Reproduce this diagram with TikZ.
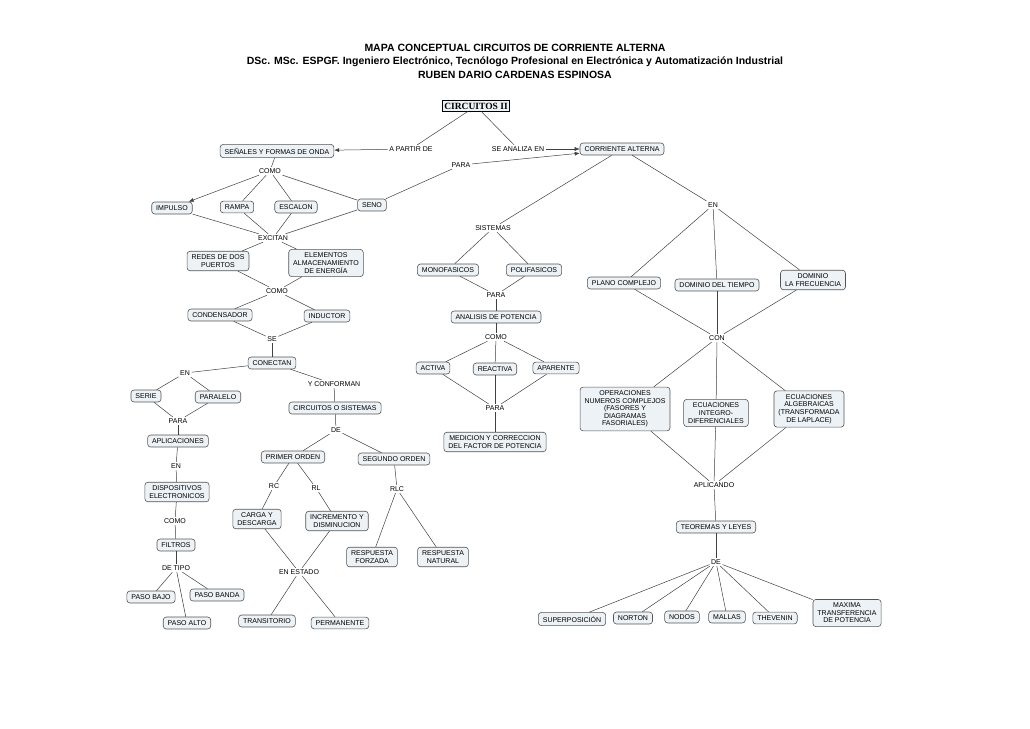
\documentclass[tikz,border=0pt]{standalone}
\usepackage{fontspec}
\setmainfont{Liberation Sans}
\newfontfamily\rootfont{Liberation Serif}
\usepackage{tikz}
\usetikzlibrary{arrows.meta}
\definecolor{boxfill}{HTML}{EDF2F6}
\definecolor{boxline}{HTML}{555555}
\begin{document}
\begin{tikzpicture}[x=1pt,y=-1pt,
  concept/.style={draw=boxline, fill=boxfill, rounded corners=3pt, align=center,
    font=\fontsize{7}{7.6}\selectfont, inner xsep=4.5pt, inner ysep=3.5pt, line width=0.6pt},
  link/.style={align=center, font=\fontsize{7}{7.6}\selectfont, inner sep=1.5pt, fill=white},
  conn/.style={draw=black!75, line width=0.5pt},
  toarrow/.style={conn, -{Latex[length=5pt,width=4pt]}}]
\useasboundingbox (0,0) rectangle (1030,728);

\node[font=\bfseries\fontsize{10.5}{13.5}\selectfont, align=center] (title) at (515,61)
  {MAPA CONCEPTUAL CIRCUITOS DE CORRIENTE ALTERNA\\
   DSc. MSc. ESPGF. Ingeniero Electrónico, Tecnólogo Profesional en Electrónica y Automatización Industrial\\
   RUBEN DARIO CARDENAS ESPINOSA};

\node[draw, fill=boxfill, line width=0.8pt, inner sep=2pt, font=\rootfont\bfseries\fontsize{9.5}{10}\selectfont] (root) at (476,106) {CIRCUITOS II};

% left branch
\node[link] (apartir) at (411,149) {A PARTIR DE};
\node[link] (analiza) at (518,149) {SE ANALIZA EN};
\node[concept] (senales) at (277,151) {SEÑALES Y FORMAS DE ONDA};
\node[concept] (ca) at (622,149) {CORRIENTE ALTERNA};
\node[link] (para1) at (461,165) {PARA};
\node[link] (como1) at (270,171) {COMO};
\node[concept] (impulso) at (172,208) {IMPULSO};
\node[concept] (rampa) at (237,207) {RAMPA};
\node[concept] (escalon) at (296,207) {ESCALON};
\node[concept] (seno) at (372,205) {SENO};
\node[link] (excitan) at (273,238) {EXCITAN};
\node[concept] (redes) at (218,261) {REDES DE DOS\\PUERTOS};
\node[concept] (elementos) at (326,263) {ELEMENTOS\\ALMACENAMIENTO\\DE ENERGÍA};
\node[link] (como2) at (277,291) {COMO};
\node[concept] (cond) at (220,315) {CONDENSADOR};
\node[concept] (induc) at (327,316) {INDUCTOR};
\node[link] (se) at (272,339) {SE};
\node[concept] (conectan) at (272,363) {CONECTAN};
\node[link] (en1) at (185,373) {EN};
\node[link] (yconf) at (334,384) {Y CONFORMAN};
\node[concept] (serie) at (146,396) {SERIE};
\node[concept] (paralelo) at (218,397) {PARALELO};
\node[concept] (cos) at (335,408) {CIRCUITOS O SISTEMAS};
\node[link] (para2) at (178,421) {PARA};
\node[link] (de1) at (336,430) {DE};
\node[concept] (aplic) at (178,441) {APLICACIONES};
\node[concept] (primer) at (293,457) {PRIMER ORDEN};
\node[concept] (segundo) at (394,459) {SEGUNDO ORDEN};
\node[link] (en2) at (176,466) {EN};
\node[link] (rc) at (274,486) {RC};
\node[link] (rl) at (316,488) {RL};
\node[link] (rlc) at (397,489) {RLC};
\node[concept] (dispos) at (177,492) {DISPOSITIVOS\\ELECTRONICOS};
\node[concept] (carga) at (257,519) {CARGA Y\\DESCARGA};
\node[concept] (incr) at (337,521) {INCREMENTO Y\\DISMINUCION};
\node[link] (como3) at (175,521) {COMO};
\node[concept] (filtros) at (176,545) {FILTROS};
\node[concept] (forzada) at (372,557) {RESPUESTA\\FORZADA};
\node[concept] (natural) at (443,557) {RESPUESTA\\NATURAL};
\node[link] (detipo) at (176,568) {DE TIPO};
\node[link] (estado) at (299,572) {EN ESTADO};
\node[concept] (bajo) at (151,597) {PASO BAJO};
\node[concept] (banda) at (217,595) {PASO BANDA};
\node[concept] (alto) at (187,623) {PASO ALTO};
\node[concept] (trans) at (267,621) {TRANSITORIO};
\node[concept] (perm) at (340,623) {PERMANENTE};

% middle branch
\node[link] (sistemas) at (493,228) {SISTEMAS};
\node[concept] (mono) at (448,270) {MONOFASICOS};
\node[concept] (poli) at (534,270) {POLIFASICOS};
\node[link] (para3) at (496,295) {PARA};
\node[concept] (analisis) at (496,317) {ANALISIS DE POTENCIA};
\node[link] (como4) at (496,337) {COMO};
\node[concept] (activa) at (433,368) {ACTIVA};
\node[concept] (reactiva) at (495,369) {REACTIVA};
\node[concept] (aparente) at (556,368) {APARENTE};
\node[link] (para4) at (495,408) {PARA};
\node[concept] (medicion) at (495,442) {MEDICION Y CORRECCION\\DEL FACTOR DE POTENCIA};

% right branch
\node[link] (en3) at (713,205) {EN};
\node[concept] (plano) at (624,283) {PLANO COMPLEJO};
\node[concept] (tiempo) at (717,285) {DOMINIO DEL TIEMPO};
\node[concept] (frec) at (813,280) {DOMINIO\\LA FRECUENCIA};
\node[link] (con) at (717,338) {CON};
\node[concept] (oper) at (625,409) {OPERACIONES\\NUMEROS COMPLEJOS\\(FASORES Y\\DIAGRAMAS\\FASORIALES)};
\node[concept] (ecint) at (716,413) {ECUACIONES\\INTEGRO-\\DIFERENCIALES};
\node[concept] (ecalg) at (809,409) {ECUACIONES\\ALGEBRAICAS\\(TRANSFORMADA\\DE LAPLACE)};
\node[link] (aplicando) at (714,485) {APLICANDO};
\node[concept] (teoremas) at (716,527) {TEOREMAS Y LEYES};
\node[link] (de2) at (716,562) {DE};
\node[concept] (superp) at (572,619) {SUPERPOSICIÓN};
\node[concept] (norton) at (633,618) {NORTON};
\node[concept] (nodos) at (682,617) {NODOS};
\node[concept] (mallas) at (727,617) {MALLAS};
\node[concept] (thevenin) at (775,618) {THEVENIN};
\node[concept] (maxima) at (847,613) {MAXIMA\\TRANSFERENCIA\\DE POTENCIA};

\draw[conn] (root) -- (apartir);
\draw[toarrow] (apartir) -- (senales);
\draw[conn] (root) -- (analiza);
\draw[toarrow] (analiza) -- (ca);
\draw[conn] (seno) -- (para1);
\draw[toarrow] (para1) -- (ca);
\draw[conn] (senales) -- (como1);
\draw[toarrow] (como1) -- (impulso);
\foreach \n in {rampa,escalon,seno} \draw[conn] (como1) -- (\n);
\foreach \n in {impulso,rampa,escalon,seno} \draw[conn] (\n) -- (excitan);
\foreach \n in {redes,elementos} {\draw[conn] (excitan) -- (\n); \draw[conn] (\n) -- (como2);}
\foreach \n in {cond,induc} {\draw[conn] (como2) -- (\n); \draw[conn] (\n) -- (se);}
\draw[conn] (se) -- (conectan);
\draw[conn] (conectan) -- (en1);
\draw[conn] (conectan) -- (yconf);
\foreach \n in {serie,paralelo} {\draw[conn] (en1) -- (\n); \draw[conn] (\n) -- (para2);}
\draw[conn] (para2) -- (aplic);
\draw[conn] (aplic) -- (en2);
\draw[conn] (en2) -- (dispos);
\draw[conn] (dispos) -- (como3);
\draw[conn] (como3) -- (filtros);
\draw[conn] (filtros) -- (detipo);
\foreach \n in {bajo,banda,alto} \draw[conn] (detipo) -- (\n);
\draw[conn] (yconf) -- (cos);
\draw[conn] (cos) -- (de1);
\draw[conn] (de1) -- (primer);
\draw[conn] (de1) -- (segundo);
\draw[conn] (primer) -- (rc);
\draw[conn] (rc) -- (carga);
\draw[conn] (primer) -- (rl);
\draw[conn] (rl) -- (incr);
\draw[conn] (carga) -- (estado);
\draw[conn] (incr) -- (estado);
\draw[conn] (estado) -- (trans);
\draw[conn] (estado) -- (perm);
\draw[conn] (segundo) -- (rlc);
\draw[conn] (rlc) -- (forzada);
\draw[conn] (rlc) -- (natural);

\draw[conn] (ca) -- (sistemas);
\foreach \n in {mono,poli} {\draw[conn] (sistemas) -- (\n); \draw[conn] (\n) -- (para3);}
\draw[conn] (para3) -- (analisis);
\draw[conn] (analisis) -- (como4);
\foreach \n in {activa,reactiva,aparente} {\draw[conn] (como4) -- (\n); \draw[conn] (\n) -- (para4);}
\draw[conn] (para4) -- (medicion);

\draw[conn] (ca) -- (en3);
\foreach \n in {plano,tiempo,frec} {\draw[conn] (en3) -- (\n); \draw[conn] (\n) -- (con);}
\foreach \n in {oper,ecint,ecalg} {\draw[conn] (con) -- (\n); \draw[conn] (\n) -- (aplicando);}
\draw[conn] (aplicando) -- (teoremas);
\draw[conn] (teoremas) -- (de2);
\foreach \n in {superp,norton,nodos,mallas,thevenin,maxima} \draw[conn] (de2) -- (\n);
\end{tikzpicture}
\end{document}
